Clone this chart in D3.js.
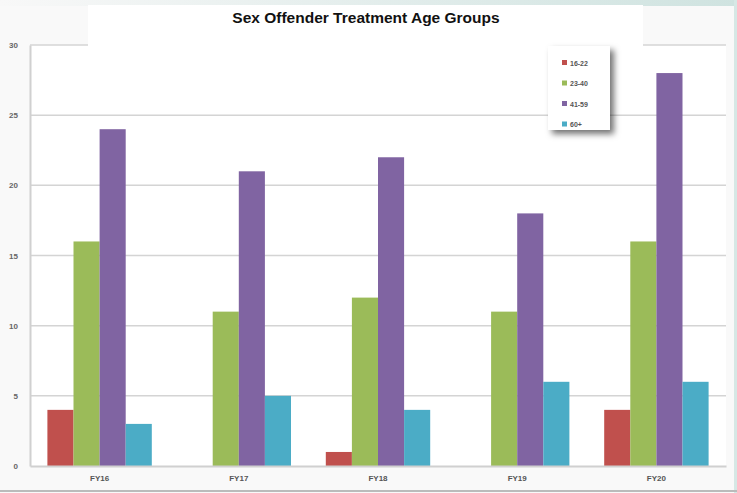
<!DOCTYPE html>
<html><head><meta charset="utf-8">
<script src="https://cdn.jsdelivr.net/npm/d3@7"></script>
<style>body{margin:0;background:#fff;}svg{display:block;}</style>
</head><body>
<script>
const categories = ["FY16","FY17","FY18","FY19","FY20"];
const seriesNames = ["16-22","23-40","41-59","60+"];
const s1622 = [4,0,1,0,4];
const s2340 = [16,11,12,11,16];
const s4159 = [24,21,22,18,28];
const s60 = [3,5,4,6,6];
const yTicks = [0,5,10,15,20,25,30];
const colors = ["#c0504d","#9bbb59","#8064a2","#4bacc6"];
const title = "Sex Offender Treatment Age Groups";

const W=737,H=493;
const svg=d3.select("body").append("svg").attr("width",W).attr("height",H);
const defs=svg.append("defs");
const g1=defs.append("linearGradient").attr("id","bg").attr("x1","0").attr("x2","1").attr("y1","0").attr("y2","0");
g1.append("stop").attr("offset","0").attr("stop-color","#f8f8f8");
g1.append("stop").attr("offset","1").attr("stop-color","#cfe3e0");
svg.append("rect").attr("width",W).attr("height",H).attr("fill","#f9f9f9");
svg.append("rect").attr("width",W).attr("height",6).attr("fill","url(#bg)");
svg.append("rect").attr("x",W-3).attr("y",0).attr("width",3).attr("height",H).attr("fill","#d6e8e5");
svg.append("rect").attr("x",30).attr("y",45).attr("width",696).attr("height",421).attr("fill","#fff");
svg.append("line").attr("x1",0).attr("x2",W).attr("y1",H-2).attr("y2",H-2).attr("stroke","#bbb").attr("stroke-width",2);

const x0=30,x1=726,yTop=45,yBot=466;
const y=d3.scaleLinear().domain([0,30]).range([yBot,yTop]);
const xb=d3.scaleBand().domain(categories).range([x0,x1]).paddingInner(0.25).paddingOuter(0.125);
const xs=d3.scaleBand().domain(seriesNames).range([0,xb.bandwidth()]);

// gridlines
svg.append("g").selectAll("line").data(yTicks.filter(d=>d>0)).join("line")
  .attr("x1",x0).attr("x2",x1).attr("y1",d=>y(d)).attr("y2",d=>y(d))
  .attr("stroke","#d4d4d4").attr("stroke-width",1.5);

// y axis
const ya=svg.append("g").attr("transform",`translate(${x0},0)`)
  .call(d3.axisLeft(y).tickValues(yTicks).tickSize(0).tickPadding(12));
ya.select(".domain").attr("stroke","#d0d0d0").attr("stroke-width",2);
ya.selectAll("text").attr("font-family","Arial, Liberation Sans, sans-serif").attr("font-size",8).attr("font-weight","bold").attr("fill","#666");

// bars
const data=[s1622,s2340,s4159,s60];
seriesNames.forEach((s,i)=>{
  svg.append("g").selectAll("rect").data(categories).join("rect")
    .attr("x",c=>xb(c)+xs(s)).attr("width",xs.bandwidth())
    .attr("y",(c,j)=>y(data[i][j])).attr("height",(c,j)=>y(0)-y(data[i][j]))
    .attr("fill",colors[i]);
});

// x axis
const xa=svg.append("g").attr("transform",`translate(0,${yBot})`)
  .call(d3.axisBottom(xb).tickSize(0).tickPadding(9));
xa.select(".domain").attr("stroke","#d0d0d0").attr("stroke-width",2);
xa.selectAll("text").attr("font-family","Arial, Liberation Sans, sans-serif").attr("font-size",8).attr("font-weight","bold").attr("fill","#555");

// title box
svg.append("rect").attr("x",88).attr("y",5).attr("width",555).attr("height",42).attr("fill","#fff");
svg.append("text").attr("x",366).attr("y",23).attr("text-anchor","middle")
  .attr("font-family","Arial, Liberation Sans, sans-serif").attr("font-size",15.5).attr("font-weight","bold").attr("fill","#111").text(title);

// legend
const f=defs.append("filter").attr("id","sh").attr("x","-20%").attr("y","-20%").attr("width","160%").attr("height","160%");
f.append("feDropShadow").attr("dx",4).attr("dy",4).attr("stdDeviation",3).attr("flood-color","#000").attr("flood-opacity",0.55);
const lg=svg.append("g").attr("transform","translate(548,46)");
lg.append("rect").attr("width",62).attr("height",84).attr("fill","#fff").attr("filter","url(#sh)");
seriesNames.forEach((s,i)=>{
  const yy=17+i*20.5;
  lg.append("rect").attr("x",14).attr("y",yy-3).attr("width",5).attr("height",5).attr("fill",colors[i]);
  lg.append("text").attr("x",22).attr("y",yy+2.5).attr("font-family","Arial, Liberation Sans, sans-serif")
    .attr("font-size",7).attr("font-weight","bold").attr("fill","#555").text(s);
});
</script>
</body></html>
